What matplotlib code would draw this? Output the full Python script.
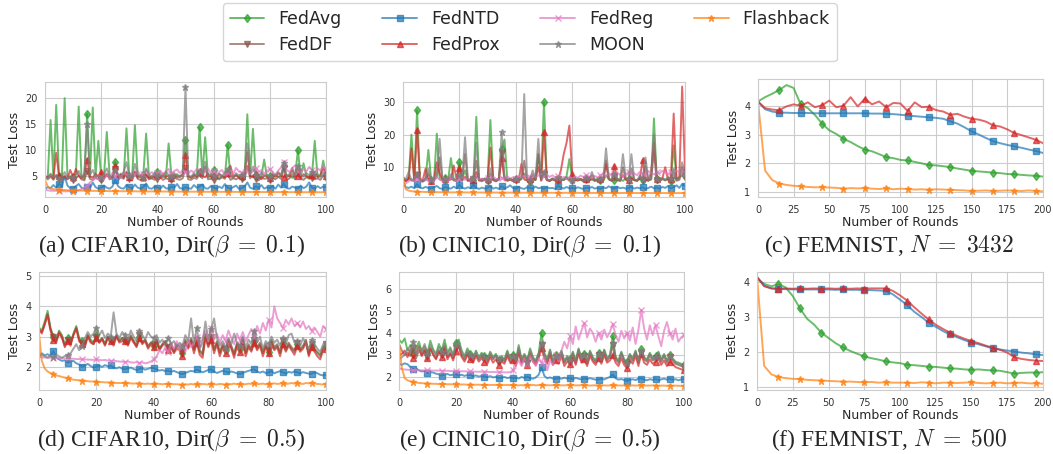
import numpy as np
import matplotlib.pyplot as plt
import seaborn as sns

sns.set_style('whitegrid')
plt.rcParams['font.family'] = ['DejaVu Sans']
plt.rcParams['mathtext.fontset'] = 'cm'

methods = ['FedAvg', 'FedDF', 'FedNTD', 'FedProx', 'FedReg', 'MOON', 'Flashback']
colors = {'FedAvg': '#2ca02c', 'FedDF': '#8c564b', 'FedNTD': '#1f77b4', 'FedProx': '#d62728',
          'FedReg': '#e377c2', 'MOON': '#7f7f7f', 'Flashback': '#ff7f0e'}
markers = {'FedAvg': 'd', 'FedDF': 'v', 'FedNTD': 's', 'FedProx': '^',
           'FedReg': 'x', 'MOON': '*', 'Flashback': '*'}

rounds = np.arange(0, 101)
rounds_femnist = np.arange(0, 201, 5)

# ---------------- (a) CIFAR10, beta = 0.1 ----------------
a_fedavg = [5.0, 4.8, 15.8, 4.6, 18.7, 5.0, 4.7, 20.0, 5.2, 4.6,
            4.8, 5.3, 18.4, 4.9, 4.5, 17.0, 4.8, 18.2, 5.1, 11.8,
            4.7, 5.0, 13.5, 5.2, 4.6, 7.8, 4.9, 5.5, 4.7, 14.2,
            5.0, 4.6, 14.8, 5.1, 4.8, 5.3, 13.2, 4.9, 4.6, 5.2,
            5.8, 4.8, 5.0, 4.7, 11.3, 5.1, 4.6, 5.4, 4.9, 5.2,
            12.0, 5.0, 4.7, 5.3, 4.9, 14.4, 5.2, 12.5, 4.8, 5.0,
            6.2, 4.9, 4.6, 5.1, 4.8, 11.0, 5.0, 4.7, 5.3, 4.9,
            5.1, 4.8, 16.9, 5.0, 14.1, 5.2, 4.7, 5.0, 8.2, 4.8,
            5.0, 4.6, 5.3, 4.9, 5.1, 7.0, 4.8, 5.2, 4.7, 5.0,
            10.0, 4.9, 7.5, 5.1, 4.7, 5.2, 11.8, 4.8, 5.0, 8.0,
            5.2]
a_feddf = [4.8, 4.4, 4.9, 4.3, 5.2, 4.5, 4.2, 4.7, 4.4, 4.9,
           4.3, 4.6, 5.1, 4.4, 4.2, 6.0, 4.5, 4.3, 4.8, 4.4,
           4.2, 4.7, 5.5, 4.4, 4.6, 6.3, 4.3, 4.8, 4.5, 5.9,
           4.4, 4.2, 5.6, 4.5, 4.3, 4.7, 5.2, 4.4, 4.6, 4.3,
           4.5, 4.8, 4.3, 4.6, 4.4, 4.2, 4.7, 4.5, 4.3, 4.6,
           6.5, 4.4, 4.3, 4.7, 4.5, 5.4, 4.6, 6.8, 4.4, 4.5,
           4.3, 4.6, 4.4, 4.8, 4.5, 5.5, 4.3, 4.6, 4.4, 4.7,
           4.5, 4.3, 7.0, 4.6, 5.2, 4.4, 4.2, 4.8, 4.5, 4.6,
           4.3, 4.7, 4.4, 4.9, 4.5, 6.5, 4.3, 4.6, 5.4, 4.4,
           5.8, 4.6, 4.3, 4.8, 4.5, 4.7, 4.4, 4.6, 4.3, 5.2,
           4.6]
a_fedntd = [2.6, 2.9, 2.7, 3.3, 2.8, 3.6, 3.0, 5.0, 3.2, 2.7,
            2.6, 3.1, 3.5, 2.8, 2.6, 3.0, 2.7, 3.8, 2.9, 2.6,
            2.7, 3.2, 2.8, 2.6, 3.0, 4.3, 3.1, 2.7, 2.6, 3.3,
            2.9, 2.6, 3.4, 2.8, 2.6, 2.9, 3.6, 2.7, 2.6, 3.0,
            2.8, 2.6, 3.2, 2.7, 2.6, 3.0, 2.8, 3.5, 2.7, 2.6,
            2.9, 2.7, 2.6, 3.3, 2.8, 3.0, 3.4, 2.7, 2.6, 3.1,
            2.8, 2.6, 3.0, 2.7, 3.5, 2.8, 2.6, 2.9, 3.2, 2.6,
            2.7, 3.0, 3.8, 2.8, 2.6, 3.1, 2.7, 3.3, 2.6, 2.9,
            2.7, 3.1, 2.6, 3.4, 2.8, 3.6, 2.7, 2.6, 3.0, 2.8,
            2.6, 3.2, 2.7, 3.0, 3.8, 2.8, 2.6, 3.1, 2.7, 3.0,
            2.9]
a_fedprox = [5.0, 4.8, 5.3, 4.6, 9.5, 5.1, 4.7, 5.0, 4.5, 6.2,
             4.8, 6.4, 5.1, 4.6, 5.3, 8.2, 5.0, 4.7, 5.5, 4.9,
             5.8, 4.6, 5.2, 4.8, 5.0, 7.0, 4.7, 5.3, 4.9, 5.6,
             4.8, 5.1, 5.9, 4.7, 5.2, 4.9, 5.4, 4.6, 5.0, 4.8,
             5.2, 4.7, 5.5, 4.9, 5.1, 4.6, 5.3, 4.8, 5.0, 5.4,
             9.0, 5.0, 4.7, 5.2, 4.9, 6.0, 5.1, 4.8, 5.5, 4.9,
             5.2, 4.7, 5.4, 5.0, 4.8, 5.6, 7.0, 4.9, 5.2, 4.7,
             5.0, 5.3, 9.6, 5.1, 4.8, 5.4, 4.9, 4.4, 5.2, 5.0,
             4.7, 5.3, 4.9, 5.6, 5.1, 4.8, 5.2, 5.0, 6.6, 4.9,
             5.1, 4.7, 5.4, 5.0, 4.8, 5.3, 5.8, 4.9, 5.2, 6.7,
             5.0]
a_fedreg = [2.4, 2.3, 2.2, 2.2, 2.2, 2.1, 2.1, 2.1, 2.1, 2.2,
            2.2, 2.3, 2.3, 2.5, 2.8, 3.2, 3.8, 4.2, 4.6, 4.4,
            4.9, 4.5, 5.2, 4.8, 5.6, 5.0, 5.4, 4.7, 5.8, 5.2,
            5.0, 5.7, 5.3, 6.0, 5.1, 5.5, 6.2, 5.3, 5.8, 5.2,
            5.6, 6.1, 5.4, 5.9, 6.4, 5.5, 6.0, 6.3, 5.6, 6.2,
            5.8, 5.5, 6.1, 5.7, 6.4, 6.0, 5.5, 5.9, 6.5, 5.6,
            6.0, 5.4, 5.8, 6.2, 5.3, 5.7, 6.1, 5.5, 6.6, 5.9,
            5.6, 6.3, 5.8, 5.4, 6.0, 6.5, 5.7, 6.2, 5.5, 6.0,
            6.4, 5.8, 5.3, 6.1, 6.7, 7.7, 6.2, 5.8, 6.6, 7.1,
            6.0, 5.6, 6.4, 5.9, 6.8, 6.2, 5.7, 6.5, 6.1, 6.9,
            6.3]
a_moon = [5.0, 4.6, 5.5, 4.8, 5.2, 4.5, 4.9, 5.8, 4.6, 5.0,
          4.7, 5.3, 6.0, 4.8, 5.5, 15.0, 5.2, 6.2, 4.9, 5.1,
          4.6, 5.4, 6.5, 5.0, 4.7, 6.2, 5.3, 4.9, 5.8, 7.7,
          5.1, 4.8, 7.4, 5.2, 5.0, 4.7, 6.5, 5.3, 4.9, 5.6,
          5.0, 5.4, 4.8, 5.9, 5.2, 4.9, 5.6, 5.1, 4.8, 5.3,
          22.2, 5.2, 4.9, 5.6, 5.1, 6.0, 5.3, 7.8, 5.0, 5.4,
          5.1, 4.8, 5.5, 5.0, 5.7, 6.3, 5.2, 4.9, 5.6, 5.1,
          5.3, 4.9, 11.3, 5.4, 6.8, 5.2, 4.8, 5.7, 5.0, 5.3,
          4.9, 5.5, 5.1, 5.8, 5.2, 7.5, 5.0, 5.4, 6.0, 5.1,
          7.0, 5.3, 4.9, 5.6, 5.2, 5.8, 5.0, 5.4, 4.9, 5.7,
          5.3]
a_flashback = [4.3, 3.0, 2.6, 2.5, 2.45, 2.4, 2.35, 2.35, 2.3, 2.3,
               2.25, 2.25, 2.25, 2.23, 2.22, 2.2, 2.2, 2.19, 2.18, 2.17,
               2.15, 2.15, 2.15, 2.14, 2.13, 2.13, 2.12, 2.12, 2.11, 2.11,
               2.1, 2.1, 2.1, 2.09, 2.09, 2.08, 2.08, 2.08, 2.07, 2.07,
               2.07, 2.06, 2.06, 2.06, 2.05, 2.05, 2.05, 2.04, 2.04, 2.04,
               2.03, 2.03, 2.03, 2.03, 2.02, 2.02, 2.02, 2.01, 2.01, 2.01,
               2.01, 2.0, 2.0, 2.0, 2.0, 1.99, 1.99, 1.99, 1.99, 1.98,
               1.98, 1.98, 1.98, 1.97, 1.97, 1.97, 1.97, 1.96, 1.96, 1.96,
               1.96, 1.95, 1.95, 1.95, 1.95, 1.95, 1.94, 1.94, 1.94, 1.94,
               1.94, 1.93, 1.93, 1.93, 1.93, 1.93, 1.92, 1.92, 1.92, 1.92,
               1.92]

# ---------------- (b) CINIC10, beta = 0.1 ----------------
b_fedavg = [6.8, 5.9, 6.4, 20.0, 6.0, 27.5, 6.2, 5.8, 6.5, 15.3,
            6.1, 5.7, 20.3, 6.3, 5.9, 6.6, 6.0, 12.8, 6.2, 5.8,
            11.5, 6.4, 9.0, 5.9, 6.3, 6.0, 25.5, 6.2, 5.8, 6.5,
            6.1, 24.5, 6.3, 5.9, 6.6, 15.5, 18.5, 6.0, 6.4, 5.8,
            6.2, 5.9, 6.5, 8.0, 6.1, 5.7, 6.3, 6.0, 14.0, 6.4,
            30.0, 6.2, 5.8, 6.5, 6.1, 5.9, 6.4, 6.0, 7.2, 12.5,
            6.3, 5.9, 6.6, 6.1, 5.8, 6.4, 6.0, 6.2, 5.7, 6.5,
            6.1, 5.8, 7.5, 6.3, 6.0, 5.9, 6.4, 6.1, 5.8, 6.6,
            6.2, 7.0, 6.0, 5.8, 6.5, 6.1, 6.3, 5.9, 6.4, 25.0,
            6.2, 5.9, 6.6, 6.0, 6.3, 5.8, 16.7, 6.2, 6.8, 7.5,
            7.2]
b_feddf = [6.2, 5.6, 6.8, 5.9, 5.7, 7.5, 5.8, 5.5, 6.1, 8.0,
           5.7, 6.0, 7.0, 13.0, 5.8, 5.6, 6.2, 6.8, 5.9, 5.7,
           6.5, 5.8, 14.0, 6.0, 5.6, 6.3, 12.0, 5.9, 5.7, 6.1,
           5.8, 8.0, 6.0, 5.6, 6.2, 14.5, 6.4, 5.8, 6.1, 5.7,
           6.0, 5.8, 6.3, 12.0, 5.9, 5.6, 7.5, 6.1, 14.0, 5.8,
           8.0, 6.0, 5.7, 6.2, 5.8, 6.3, 5.9, 6.1, 6.6, 5.8,
           5.7, 6.1, 5.9, 6.2, 5.6, 6.3, 5.8, 7.5, 6.0, 5.7,
           6.1, 5.9, 12.0, 6.2, 5.8, 7.0, 6.0, 5.7, 10.0, 6.1,
           5.8, 9.5, 6.0, 5.7, 6.8, 6.1, 10.5, 5.9, 6.2, 15.0,
           6.0, 5.7, 6.3, 5.9, 6.5, 6.0, 8.0, 5.8, 6.1, 10.0,
           7.0]
b_fedntd = [5.5, 3.8, 3.6, 4.0, 3.5, 4.8, 3.7, 3.5, 3.9, 3.6,
            3.4, 3.8, 4.2, 3.5, 3.3, 3.9, 3.6, 3.4, 4.0, 3.5,
            4.6, 3.7, 3.4, 3.8, 3.5, 4.5, 3.6, 3.3, 3.7, 3.4,
            3.6, 4.1, 3.4, 3.7, 3.3, 4.2, 3.5, 3.8, 4.4, 3.6,
            3.4, 3.9, 3.5, 3.3, 3.8, 3.6, 3.4, 4.0, 3.5, 3.7,
            3.4, 3.8, 3.5, 3.6, 3.3, 4.3, 3.7, 3.4, 3.9, 3.5,
            3.6, 3.4, 3.8, 3.5, 3.3, 3.7, 3.5, 3.9, 3.4, 3.6,
            3.3, 3.8, 3.5, 4.1, 3.6, 3.4, 3.9, 3.5, 3.7, 3.4,
            3.6, 3.9, 3.4, 3.7, 3.5, 3.8, 3.3, 3.6, 4.0, 3.5,
            3.7, 3.4, 3.9, 3.6, 4.2, 3.5, 3.8, 4.4, 3.6, 4.8,
            4.2]
b_fedprox = [6.5, 5.8, 6.2, 15.8, 6.0, 21.3, 6.4, 5.9, 9.5, 6.1,
             5.8, 6.3, 11.5, 8.0, 6.0, 6.5, 5.9, 6.2, 10.5, 6.4,
             9.8, 6.0, 7.0, 5.8, 6.3, 6.1, 8.5, 5.9, 6.4, 6.0,
             6.2, 16.0, 6.1, 5.8, 6.5, 12.8, 6.2, 5.9, 6.3, 6.0,
             6.4, 5.8, 11.0, 6.2, 5.9, 6.5, 6.1, 6.3, 10.0, 6.0,
             20.7, 6.2, 5.8, 6.4, 6.0, 6.3, 9.0, 14.0, 17.5, 22.8,
             8.0, 6.1, 5.9, 6.4, 6.0, 6.2, 5.8, 6.5, 6.1, 5.9,
             6.3, 6.0, 11.0, 6.4, 5.9, 10.5, 6.2, 6.0, 7.5, 6.3,
             5.9, 6.5, 6.1, 6.0, 6.4, 12.3, 6.2, 5.8, 8.5, 17.5,
             6.3, 6.0, 6.6, 10.0, 6.1, 6.4, 26.5, 6.2, 7.0, 34.8,
             9.0]
b_fedreg = [4.5, 5.0, 5.6, 6.2, 5.8, 6.4, 5.9, 6.6, 6.1, 5.7,
            6.3, 5.9, 6.8, 6.2, 5.8, 6.5, 6.0, 6.7, 6.3, 5.9,
            6.4, 6.9, 6.1, 6.6, 5.9, 6.3, 6.8, 6.2, 6.5, 6.0,
            6.7, 6.3, 7.0, 6.4, 6.1, 6.8, 6.5, 7.2, 6.3, 6.9,
            6.5, 7.3, 6.8, 7.5, 6.6, 7.1, 7.8, 6.9, 7.4, 8.0,
            7.3, 7.7, 7.0, 7.5, 6.8, 7.2, 6.6, 7.0, 6.4, 6.9,
            6.5, 7.1, 6.7, 7.4, 6.9, 7.6, 7.0, 6.6, 7.3, 6.8,
            7.5, 7.9, 7.2, 8.1, 7.4, 7.8, 8.3, 7.6, 7.1, 7.9,
            8.4, 7.7, 8.1, 7.5, 8.6, 8.0, 7.7, 8.8, 8.2, 7.8,
            8.5, 8.1, 8.9, 8.3, 7.9, 8.6, 8.2, 9.0, 8.4, 8.7,
            8.3]
b_moon = [7.0, 6.2, 8.5, 6.0, 6.5, 7.8, 6.1, 5.8, 6.4, 9.5,
          6.0, 6.6, 8.0, 18.7, 6.3, 5.9, 6.5, 7.8, 6.1, 6.4,
          7.5, 6.0, 19.2, 6.3, 5.8, 6.6, 17.5, 6.2, 5.9, 6.5,
          6.1, 9.5, 6.4, 5.8, 6.2, 20.7, 7.0, 6.0, 6.5, 5.9,
          6.3, 6.0, 6.6, 32.5, 6.2, 5.8, 9.0, 6.4, 18.7, 6.1,
          8.5, 6.3, 5.9, 6.5, 6.1, 6.6, 6.0, 6.3, 7.0, 6.2,
          5.9, 6.5, 6.1, 6.4, 5.8, 6.6, 6.0, 8.5, 6.2, 5.9,
          6.3, 6.1, 15.8, 6.4, 6.0, 8.0, 6.2, 5.9, 14.0, 6.5,
          6.1, 14.0, 6.3, 5.9, 7.5, 6.2, 13.0, 6.0, 6.5, 20.0,
          6.2, 5.8, 6.6, 6.1, 7.0, 6.3, 9.5, 6.0, 6.4, 11.5,
          8.0]
b_flashback = [6.5, 3.2, 2.8, 2.6, 2.5, 2.45, 2.4, 2.4, 2.35, 2.35,
               2.3, 2.3, 2.3, 2.28, 2.27, 2.26, 2.25, 2.25, 2.24, 2.23,
               2.23, 2.22, 2.22, 2.21, 2.21, 2.2, 2.2, 2.2, 2.19, 2.19,
               2.18, 2.18, 2.18, 2.17, 2.17, 2.17, 2.16, 2.16, 2.16, 2.15,
               2.15, 2.15, 2.14, 2.14, 2.14, 2.13, 2.13, 2.13, 2.12, 2.12,
               2.12, 2.12, 2.11, 2.11, 2.11, 2.1, 2.1, 2.1, 2.1, 2.09,
               2.09, 2.09, 2.09, 2.08, 2.08, 2.08, 2.08, 2.07, 2.07, 2.07,
               2.07, 2.07, 2.06, 2.06, 2.06, 2.06, 2.06, 2.05, 2.05, 2.05,
               2.05, 2.05, 2.05, 2.04, 2.04, 2.04, 2.04, 2.04, 2.03, 2.03,
               2.03, 2.03, 2.03, 2.03, 2.02, 2.02, 2.02, 2.02, 2.02, 2.02,
               2.01]

# ---------------- (c) FEMNIST, N = 3432 ----------------
c_fedavg = [4.15, 4.3, 4.42, 4.55, 4.72, 4.62, 4.05, 3.92, 3.68, 3.38,
            3.15, 3.02, 2.85, 2.74, 2.6, 2.48, 2.42, 2.32, 2.22, 2.18,
            2.12, 2.1, 2.05, 2.0, 1.94, 1.93, 1.9, 1.87, 1.82, 1.78,
            1.74, 1.72, 1.7, 1.68, 1.66, 1.63, 1.62, 1.6, 1.58, 1.57,
            1.54]
c_fedntd = [4.15, 3.88, 3.8, 3.76, 3.76, 3.75, 3.75, 3.75, 3.74, 3.74,
            3.74, 3.74, 3.74, 3.74, 3.74, 3.74, 3.73, 3.73, 3.72, 3.71,
            3.69, 3.66, 3.64, 3.62, 3.6, 3.58, 3.55, 3.46, 3.38, 3.25,
            3.11, 3.0, 2.88, 2.77, 2.7, 2.64, 2.59, 2.54, 2.48, 2.43,
            2.36]
c_fedprox = [4.15, 3.92, 3.87, 3.85, 3.98, 4.05, 4.0, 4.12, 3.95, 4.02,
             4.18, 3.95, 4.0, 4.3, 3.98, 4.25, 4.05, 4.15, 3.95, 4.1,
             4.08, 3.82, 4.12, 3.95, 3.97, 3.85, 3.8, 3.69, 3.72, 3.62,
             3.55, 3.52, 3.45, 3.32, 3.28, 3.18, 3.05, 2.98, 2.9, 2.82,
             2.7]
c_flashback = [4.15, 1.75, 1.42, 1.3, 1.25, 1.22, 1.2, 1.18, 1.17, 1.17,
               1.16, 1.15, 1.12, 1.14, 1.13, 1.14, 1.12, 1.11, 1.13, 1.1,
               1.12, 1.11, 1.09, 1.1, 1.08, 1.1, 1.09, 1.08, 1.07, 1.06,
               1.04, 1.05, 1.06, 1.04, 1.05, 1.06, 1.05, 1.04, 1.06, 1.04,
               1.03]

# ---------------- (d) CIFAR10, beta = 0.5 ----------------
d_fedavg = [3.3, 3.2, 3.5, 3.85, 3.3, 3.0, 2.9, 3.2, 3.05, 2.75,
            2.95, 2.8, 3.1, 3.35, 2.95, 2.85, 2.75, 3.05, 2.9, 2.8,
            3.05, 2.85, 2.95, 2.75, 3.0, 2.9, 2.8, 3.05, 2.85, 2.95,
            2.9, 2.75, 3.0, 2.85, 2.7, 3.0, 2.8, 2.9, 2.65, 2.8,
            2.7, 2.9, 2.6, 2.75, 2.85, 2.6, 2.75, 2.5, 2.7, 2.6,
            2.45, 2.85, 2.65, 2.9, 2.55, 2.85, 2.5, 2.4, 3.05, 2.7,
            2.95, 2.55, 2.8, 2.45, 2.7, 2.55, 2.85, 2.65, 2.4, 2.75,
            2.6, 2.9, 2.45, 2.7, 2.55, 2.85, 2.6, 2.75, 2.45, 2.7,
            2.5, 2.85, 2.6, 2.7, 2.45, 2.8, 2.55, 2.75, 2.6, 2.5,
            2.75, 2.55, 2.65, 2.85, 2.4, 2.7, 2.55, 2.45, 2.35, 2.6,
            2.7]
d_feddf = [3.2, 3.15, 3.4, 3.75, 3.25, 3.0, 2.85, 3.1, 2.95, 2.7,
           2.9, 2.75, 3.05, 3.3, 2.9, 2.8, 2.7, 3.05, 2.85, 2.75,
           3.0, 2.8, 2.95, 2.75, 3.0, 2.9, 2.8, 3.05, 2.85, 2.95,
           2.9, 2.75, 3.05, 2.85, 2.7, 3.05, 2.8, 2.9, 2.7, 2.8,
           2.75, 2.9, 2.6, 2.75, 2.85, 2.65, 2.8, 2.5, 2.75, 2.65,
           2.5, 2.9, 2.7, 2.95, 2.6, 2.9, 2.55, 2.45, 3.1, 2.75,
           3.0, 2.6, 2.85, 2.5, 2.75, 2.6, 2.9, 2.7, 2.45, 2.8,
           2.65, 2.95, 2.5, 2.75, 2.6, 2.9, 2.65, 2.8, 2.5, 2.75,
           2.55, 2.9, 2.65, 2.75, 2.5, 2.85, 2.6, 2.8, 2.65, 2.55,
           2.8, 2.6, 2.7, 2.9, 2.45, 2.75, 2.6, 2.5, 2.4, 2.65,
           2.75]
d_fedntd = [2.35, 2.45, 2.38, 2.42, 2.36, 2.53, 2.3, 2.25, 2.2, 2.22,
            2.14, 2.18, 2.2, 2.12, 2.08, 2.01, 2.05, 2.1, 2.03, 1.98,
            2.01, 2.04, 2.0, 2.06, 2.02, 2.05, 1.98, 1.95, 1.99, 1.94,
            1.92, 1.95, 1.98, 1.93, 1.9, 1.93, 1.96, 1.91, 1.94, 1.97,
            1.96, 1.92, 1.88, 1.9, 1.86, 1.88, 1.84, 1.87, 1.83, 1.79,
            1.76, 1.8, 1.84, 1.87, 1.85, 1.92, 1.87, 1.82, 1.86, 1.9,
            1.92, 1.85, 1.8, 1.84, 1.87, 1.85, 1.81, 1.85, 1.82, 1.79,
            1.76, 1.8, 1.84, 1.87, 1.9, 1.92, 1.85, 1.81, 1.85, 1.8,
            1.82, 1.86, 1.79, 1.83, 1.86, 1.82, 1.78, 1.84, 1.81, 1.85,
            1.82, 1.79, 1.83, 1.8, 1.78, 1.77, 1.82, 1.79, 1.74, 1.72,
            1.74]
d_fedprox = [3.25, 3.1, 3.4, 3.7, 3.2, 2.9, 2.8, 3.15, 3.0, 2.65,
             2.85, 2.7, 3.05, 3.25, 2.85, 2.75, 2.65, 3.0, 2.8, 2.75,
             2.95, 2.8, 2.9, 2.7, 2.95, 2.85, 2.7, 3.0, 2.8, 2.85,
             2.85, 2.7, 2.95, 2.8, 2.65, 2.95, 2.75, 2.85, 2.6, 2.75,
             2.65, 2.85, 2.55, 2.7, 2.8, 2.55, 2.7, 2.45, 2.6, 2.55,
             2.35, 2.8, 2.6, 2.85, 2.45, 2.8, 2.4, 2.3, 2.95, 2.65,
             2.9, 2.45, 2.75, 2.35, 2.65, 2.45, 2.8, 2.6, 2.3, 2.7,
             2.5, 2.85, 2.35, 2.65, 2.5, 2.8, 2.55, 2.7, 2.35, 2.65,
             2.45, 2.8, 2.55, 2.65, 2.35, 2.75, 2.5, 2.7, 2.55, 2.4,
             2.7, 2.5, 2.6, 2.8, 2.35, 2.65, 2.5, 2.35, 2.25, 2.55,
             2.6]
d_fedreg = [2.32, 2.32, 2.31, 2.31, 2.3, 2.3, 2.3, 2.29, 2.29, 2.28,
            2.28, 2.27, 2.27, 2.26, 2.26, 2.25, 2.25, 2.24, 2.24, 2.23,
            2.25, 2.23, 2.22, 2.23, 2.21, 2.2, 2.21, 2.19, 2.18, 2.17,
            2.16, 2.18, 2.15, 2.14, 2.16, 2.13, 2.15, 2.12, 2.14, 2.18,
            2.25, 2.35, 2.55, 2.45, 2.65, 2.5, 2.75, 2.6, 2.85, 2.55,
            2.7, 2.5, 2.9, 2.65, 2.8, 3.0, 2.7, 2.95, 3.2, 2.85,
            3.3, 2.9, 3.1, 2.8, 3.05, 2.85, 3.2, 2.95, 2.75, 3.1,
            2.9, 3.15, 2.85, 3.05, 3.25, 3.0, 3.35, 3.1, 3.45, 3.2,
            3.55, 3.3, 4.0, 3.6, 3.45, 3.3, 3.55, 3.4, 3.6, 3.35,
            3.45, 3.3, 3.5, 3.25, 3.35, 3.2, 3.3, 3.15, 3.0, 3.35,
            3.25]
d_moon = [2.35, 2.4, 2.35, 2.3, 2.38, 2.32, 2.4, 2.35, 2.3, 2.36,
          2.38, 2.45, 2.6, 2.75, 2.55, 2.7, 2.95, 3.15, 3.0, 3.1,
          3.3, 3.05, 3.2, 2.95, 3.1, 3.0, 3.8, 3.1, 2.95, 3.15,
          3.05, 2.9, 3.2, 3.0, 2.85, 3.2, 3.05, 2.9, 3.15, 3.0,
          2.95, 3.05, 2.8, 2.9, 2.7, 2.95, 2.75, 2.85, 2.65, 2.8,
          2.7, 3.05, 2.85, 3.6, 2.75, 3.3, 2.6, 2.8, 3.5, 2.9,
          3.25, 3.6, 2.95, 2.7, 2.85, 2.6, 2.95, 2.75, 3.1, 2.8,
          2.7, 3.0, 2.65, 2.9, 2.75, 3.2, 2.8, 3.0, 2.6, 2.85,
          2.75, 3.0, 2.8, 2.9, 2.7, 2.95, 2.75, 3.05, 3.1, 2.8,
          2.85, 2.7, 2.95, 2.75, 2.6, 2.9, 2.75, 2.6, 2.5, 2.75,
          2.8]
d_flashback = [3.1, 2.2, 1.95, 1.85, 1.8, 1.76, 1.72, 1.7, 1.67, 1.65,
               1.62, 1.6, 1.58, 1.57, 1.56, 1.55, 1.54, 1.53, 1.52, 1.52,
               1.51, 1.5, 1.5, 1.49, 1.49, 1.48, 1.48, 1.47, 1.47, 1.47,
               1.46, 1.46, 1.46, 1.45, 1.46, 1.45, 1.45, 1.44, 1.45, 1.44,
               1.44, 1.45, 1.44, 1.43, 1.44, 1.43, 1.44, 1.43, 1.43, 1.42,
               1.41, 1.43, 1.42, 1.44, 1.42, 1.43, 1.42, 1.44, 1.43, 1.42,
               1.45, 1.43, 1.42, 1.44, 1.43, 1.42, 1.44, 1.43, 1.45, 1.43,
               1.44, 1.42, 1.43, 1.45, 1.44, 1.46, 1.43, 1.44, 1.45, 1.43,
               1.45, 1.44, 1.46, 1.44, 1.45, 1.46, 1.44, 1.45, 1.47, 1.45,
               1.46, 1.45, 1.44, 1.47, 1.46, 1.47, 1.45, 1.44, 1.43, 1.42,
               1.44]

# ---------------- (e) CINIC10, beta = 0.5 ----------------
e_fedavg = [3.7, 3.55, 3.75, 3.2, 3.45, 3.05, 3.3, 3.6, 3.15, 3.4,
            3.1, 3.65, 3.25, 3.05, 3.5, 3.2, 3.7, 3.1, 3.35, 3.0,
            3.55, 3.7, 3.2, 2.95, 3.3, 3.05, 2.85, 3.2, 2.9, 3.1,
            2.95, 2.8, 3.15, 2.9, 3.05, 2.75, 2.95, 2.8, 3.2, 2.85,
            3.0, 2.7, 3.45, 2.8, 3.05, 2.75, 3.3, 2.9, 2.75, 3.1,
            4.0, 3.1, 2.8, 3.25, 2.75, 3.0, 2.85, 3.2, 2.7, 2.95,
            2.8, 3.15, 2.75, 3.3, 2.85, 3.05, 2.7, 3.2, 2.9, 2.75,
            3.1, 2.8, 3.25, 2.85, 3.0, 3.85, 2.9, 2.75, 3.15, 2.8,
            2.7, 3.05, 2.85, 3.2, 2.75, 3.25, 2.9, 2.8, 3.1, 2.85,
            2.95, 3.15, 2.8, 3.05, 2.75, 3.0, 2.85, 2.7, 2.65, 2.6,
            2.55]
e_feddf = [3.5, 3.2, 3.0, 3.1, 2.95, 3.3, 2.85, 3.2, 3.0, 3.25,
           2.9, 3.3, 3.05, 2.85, 3.2, 3.0, 3.4, 2.9, 3.1, 2.85,
           3.3, 3.45, 3.0, 2.8, 3.1, 2.9, 2.75, 3.05, 2.8, 2.95,
           2.85, 2.7, 3.0, 2.8, 2.95, 2.7, 2.85, 2.7, 3.05, 2.75,
           2.9, 2.65, 3.25, 2.7, 2.95, 2.65, 3.1, 2.8, 2.65, 3.0,
           3.45, 2.95, 2.7, 3.1, 2.65, 2.9, 2.75, 3.1, 2.65, 2.85,
           2.7, 3.05, 2.65, 3.2, 2.75, 2.95, 2.6, 3.1, 2.8, 2.65,
           3.0, 2.7, 3.15, 2.75, 2.9, 3.45, 2.8, 2.65, 3.05, 2.7,
           2.6, 2.95, 2.75, 3.1, 2.65, 3.1, 2.8, 2.7, 3.0, 2.75,
           2.85, 3.05, 2.7, 2.95, 2.65, 2.9, 2.75, 2.6, 2.55, 2.5,
           2.45]
e_fedntd = [2.6, 2.55, 2.62, 2.58, 2.45, 2.35, 2.4, 2.3, 2.25, 2.28,
            2.17, 2.22, 2.2, 2.15, 2.12, 2.06, 2.1, 2.14, 2.08, 2.11,
            2.12, 2.08, 2.1, 2.05, 2.09, 2.09, 2.04, 2.07, 2.02, 2.05,
            2.02, 2.0, 2.04, 1.98, 2.01, 1.94, 1.97, 2.0, 1.95, 1.98,
            1.94, 1.97, 1.93, 2.0, 1.96, 2.02, 1.95, 1.92, 1.98, 2.1,
            2.44, 2.05, 1.94, 1.98, 1.93, 1.91, 1.95, 1.92, 1.97, 1.93,
            1.94, 1.9, 1.96, 1.92, 1.89, 1.93, 1.9, 1.95, 1.91, 1.88,
            1.88, 1.92, 1.89, 1.95, 2.0, 2.12, 1.94, 1.88, 1.91, 1.86,
            1.82, 1.87, 1.9, 1.86, 1.92, 1.93, 1.88, 1.85, 1.9, 1.87,
            1.91, 1.86, 1.89, 1.93, 1.88, 1.92, 1.87, 1.9, 1.85, 1.89,
            1.91]
e_fedprox = [3.0, 3.05, 3.2, 2.9, 3.25, 2.85, 3.1, 3.4, 2.95, 3.2,
             2.85, 3.3, 3.0, 2.8, 3.15, 2.9, 3.35, 2.8, 3.05, 2.75,
             3.2, 3.4, 2.9, 2.7, 3.0, 2.8, 2.65, 2.95, 2.7, 2.85,
             2.7, 2.6, 2.9, 2.65, 2.8, 2.55, 2.7, 2.6, 2.95, 2.65,
             2.75, 2.5, 3.1, 2.6, 2.8, 2.55, 3.0, 2.7, 2.55, 2.85,
             3.3, 2.85, 2.6, 3.0, 2.55, 2.75, 2.6, 2.95, 2.5, 2.7,
             2.6, 2.9, 2.55, 3.05, 2.65, 2.8, 2.5, 2.95, 2.7, 2.55,
             2.85, 2.6, 3.0, 2.65, 2.75, 3.0, 2.65, 2.5, 2.85, 2.55,
             2.4, 2.8, 2.6, 2.95, 2.5, 3.05, 2.65, 2.55, 2.8, 2.6,
             2.7, 2.85, 2.55, 2.75, 2.5, 2.7, 2.6, 2.45, 2.4, 2.35,
             2.3]
e_fedreg = [2.4, 2.36, 2.34, 2.33, 2.32, 2.32, 2.31, 2.31, 2.3, 2.3,
            2.3, 2.3, 2.29, 2.29, 2.29, 2.28, 2.28, 2.28, 2.27, 2.27,
            2.27, 2.26, 2.26, 2.26, 2.25, 2.25, 2.25, 2.24, 2.24, 2.24,
            2.24, 2.23, 2.23, 2.23, 2.22, 2.22, 2.22, 2.21, 2.21, 2.22,
            2.3, 2.55, 2.75, 2.5, 2.85, 2.6, 2.95, 2.7, 2.5, 2.85,
            2.65, 2.95, 2.3, 2.75, 2.55, 3.0, 2.7, 3.2, 3.6, 3.3,
            3.85, 3.5, 4.3, 3.7, 4.1, 4.45, 3.8, 4.2, 4.0, 3.6,
            4.0, 3.7, 4.15, 3.8, 4.05, 4.4, 3.9, 3.6, 4.1, 3.75,
            4.0, 3.65, 4.25, 3.5, 4.15, 5.05, 4.2, 3.7, 4.35, 3.9,
            4.35, 3.85, 3.4, 4.1, 4.5, 4.0, 3.7, 4.2, 3.6, 3.8,
            3.9]
e_moon = [2.8, 2.9, 3.0, 3.3, 3.1, 3.6, 3.0, 3.4, 3.2, 3.5,
          3.05, 3.45, 3.2, 3.0, 3.35, 3.15, 3.5, 3.0, 3.25, 2.95,
          3.45, 3.55, 3.1, 2.9, 3.2, 3.0, 2.85, 3.15, 2.85, 3.05,
          2.9, 2.75, 3.1, 2.85, 3.0, 2.8, 2.9, 2.75, 3.15, 2.8,
          2.95, 2.7, 3.35, 2.75, 3.0, 2.7, 3.2, 2.85, 2.7, 3.05,
          3.55, 3.0, 2.75, 3.2, 2.7, 2.95, 2.8, 3.15, 2.7, 2.9,
          2.75, 3.1, 2.7, 3.25, 2.8, 3.0, 2.65, 3.15, 2.85, 2.7,
          3.05, 2.75, 3.2, 2.8, 2.95, 3.55, 2.85, 2.7, 3.1, 2.75,
          2.65, 3.0, 2.8, 3.15, 2.7, 3.2, 2.85, 2.75, 3.05, 2.8,
          2.9, 3.1, 2.75, 3.0, 2.7, 2.95, 2.8, 2.65, 2.6, 2.55,
          2.5]
e_flashback = [3.55, 2.4, 1.95, 1.85, 1.8, 1.77, 1.75, 1.73, 1.72, 1.71,
               1.7, 1.7, 1.69, 1.69, 1.68, 1.68, 1.68, 1.67, 1.67, 1.67,
               1.66, 1.66, 1.66, 1.66, 1.65, 1.65, 1.65, 1.65, 1.65, 1.64,
               1.64, 1.64, 1.64, 1.64, 1.64, 1.63, 1.63, 1.63, 1.64, 1.63,
               1.63, 1.63, 1.62, 1.63, 1.62, 1.63, 1.62, 1.64, 1.62, 1.63,
               1.64, 1.62, 1.63, 1.62, 1.63, 1.62, 1.63, 1.62, 1.62, 1.63,
               1.62, 1.63, 1.62, 1.62, 1.63, 1.62, 1.62, 1.61, 1.62, 1.62,
               1.61, 1.62, 1.62, 1.61, 1.62, 1.62, 1.61, 1.62, 1.61, 1.62,
               1.61, 1.61, 1.62, 1.61, 1.61, 1.62, 1.61, 1.61, 1.61, 1.62,
               1.61, 1.6, 1.61, 1.61, 1.6, 1.61, 1.6, 1.61, 1.6, 1.6,
               1.6]

# ---------------- (f) FEMNIST, N = 500 ----------------
f_fedavg = [4.1, 3.95, 3.88, 3.94, 3.85, 3.6, 3.25, 2.95, 2.78, 2.55,
            2.4, 2.25, 2.13, 2.03, 1.95, 1.87, 1.82, 1.78, 1.73, 1.7,
            1.68, 1.63, 1.62, 1.6, 1.58, 1.57, 1.55, 1.53, 1.52, 1.5,
            1.49, 1.5, 1.48, 1.47, 1.46, 1.42, 1.38, 1.4, 1.41, 1.41,
            1.42]
f_fedntd = [4.15, 3.9, 3.82, 3.8, 3.8, 3.79, 3.79, 3.79, 3.79, 3.79,
            3.79, 3.78, 3.79, 3.78, 3.78, 3.77, 3.77, 3.76, 3.75, 3.65,
            3.5, 3.34, 3.15, 3.0, 2.84, 2.72, 2.6, 2.5, 2.42, 2.34,
            2.27, 2.22, 2.16, 2.1, 2.07, 2.04, 2.01, 1.98, 1.96, 1.93,
            1.91]
f_fedprox = [4.15, 3.88, 3.82, 3.81, 3.82, 3.81, 3.82, 3.81, 3.82, 3.81,
             3.82, 3.81, 3.82, 3.81, 3.82, 3.81, 3.82, 3.82, 3.82, 3.75,
             3.62, 3.47, 3.28, 3.1, 2.93, 2.78, 2.66, 2.55, 2.46, 2.38,
             2.31, 2.25, 2.18, 2.12, 2.06, 1.98, 1.85, 1.8, 1.77, 1.75,
             1.74]
f_flashback = [4.15, 1.6, 1.36, 1.28, 1.25, 1.23, 1.22, 1.2, 1.19, 1.18,
               1.17, 1.16, 1.15, 1.15, 1.14, 1.13, 1.14, 1.12, 1.13, 1.12,
               1.12, 1.12, 1.11, 1.13, 1.12, 1.1, 1.12, 1.12, 1.11, 1.12,
               1.13, 1.11, 1.1, 1.11, 1.12, 1.1, 1.11, 1.12, 1.1, 1.1,
               1.09]

panels = [
    {'x': rounds, 'rect': [0.0427, 0.566, 0.2669, 0.2533], 'ylim': (1.0, 23.1), 'yticks': [5, 10, 15, 20],
     'caption': '(a) CIFAR10, Dir($\\beta\\;=\\;0.1$)', 'cap_xy': (0.163, 0.458),
     'series': {'FedAvg': a_fedavg, 'FedDF': a_feddf, 'FedNTD': a_fedntd, 'FedProx': a_fedprox,
                'FedReg': a_fedreg, 'MOON': a_moon, 'Flashback': a_flashback}},
    {'x': rounds, 'rect': [0.3827, 0.566, 0.2678, 0.2533], 'ylim': (0.8, 36.2), 'yticks': [10, 20, 30],
     'caption': '(b) CINIC10, Dir($\\beta\\;=\\;0.1$)', 'cap_xy': (0.503, 0.458),
     'series': {'FedAvg': b_fedavg, 'FedDF': b_feddf, 'FedNTD': b_fedntd, 'FedProx': b_fedprox,
                'FedReg': b_fedreg, 'MOON': b_moon, 'Flashback': b_flashback}},
    {'x': rounds_femnist, 'rect': [0.7198, 0.566, 0.2707, 0.2599], 'ylim': (0.83, 4.93), 'yticks': [1, 2, 3, 4],
     'caption': '(c) FEMNIST, $N\\;=\\;3432$', 'cap_xy': (0.844, 0.458),
     'series': {'FedAvg': c_fedavg, 'FedNTD': c_fedntd, 'FedProx': c_fedprox, 'Flashback': c_flashback}},
    {'x': rounds, 'rect': [0.0370, 0.141, 0.2726, 0.2599], 'ylim': (1.24, 5.13), 'yticks': [2, 3, 4, 5],
     'caption': '(d) CIFAR10, Dir($\\beta\\;=\\;0.5$)', 'cap_xy': (0.163, 0.031),
     'series': {'FedAvg': d_fedavg, 'FedDF': d_feddf, 'FedNTD': d_fedntd, 'FedProx': d_fedprox,
                'FedReg': d_fedreg, 'MOON': d_moon, 'Flashback': d_flashback}},
    {'x': rounds, 'rect': [0.3789, 0.141, 0.2707, 0.2599], 'ylim': (1.41, 6.77), 'yticks': [2, 3, 4, 5, 6],
     'caption': '(e) CINIC10, Dir($\\beta\\;=\\;0.5$)', 'cap_xy': (0.503, 0.031),
     'series': {'FedAvg': e_fedavg, 'FedDF': e_feddf, 'FedNTD': e_fedntd, 'FedProx': e_fedprox,
                'FedReg': e_fedreg, 'MOON': e_moon, 'Flashback': e_flashback}},
    {'x': rounds_femnist, 'rect': [0.7189, 0.141, 0.2716, 0.2599], 'ylim': (0.91, 4.29), 'yticks': [1, 2, 3, 4],
     'caption': '(f) FEMNIST, $N\\;=\\;500$', 'cap_xy': (0.844, 0.031),
     'series': {'FedAvg': f_fedavg, 'FedNTD': f_fedntd, 'FedProx': f_fedprox, 'Flashback': f_flashback}},
]

fig = plt.figure(figsize=(10.53, 4.54), dpi=100)

handles = {}
for p in panels:
    ax = fig.add_axes(p['rect'])
    femnist = len(p['x']) < 60
    every = (3, 3) if femnist else (5, 5)
    for m in methods:
        if m not in p['series']:
            continue
        line, = ax.plot(p['x'], p['series'][m], color=colors[m], marker=markers[m],
                        markevery=every, markersize=4.5, linewidth=1.4, alpha=0.7, label=m)
        handles[m] = line
    if femnist:
        ax.set_xlim(0, 200)
        ax.set_xticks([0, 25, 50, 75, 100, 125, 150, 175, 200])
    else:
        ax.set_xlim(0, 100)
        ax.set_xticks([0, 20, 40, 60, 80, 100])
    ax.set_ylim(*p['ylim'])
    ax.set_yticks(p['yticks'])
    ax.tick_params(labelsize=7, pad=2, labelcolor='#333333')
    ax.set_xlabel('Number of Rounds', fontsize=9, labelpad=1)
    ax.set_ylabel('Test Loss', fontsize=9, labelpad=3)
    fig.text(p['cap_xy'][0], p['cap_xy'][1], p['caption'], family='Liberation Serif',
             fontsize=17, ha='center', va='center')

fig.legend([handles[m] for m in methods], methods, loc='upper center', bbox_to_anchor=(0.503, 1.0),
           ncol=4, fontsize=12.5, frameon=True, handlelength=2.0, handletextpad=0.8,
           columnspacing=2.35, labelspacing=0.45, borderpad=0.4, borderaxespad=0.2)

fig.savefig('out.png', dpi=100)
